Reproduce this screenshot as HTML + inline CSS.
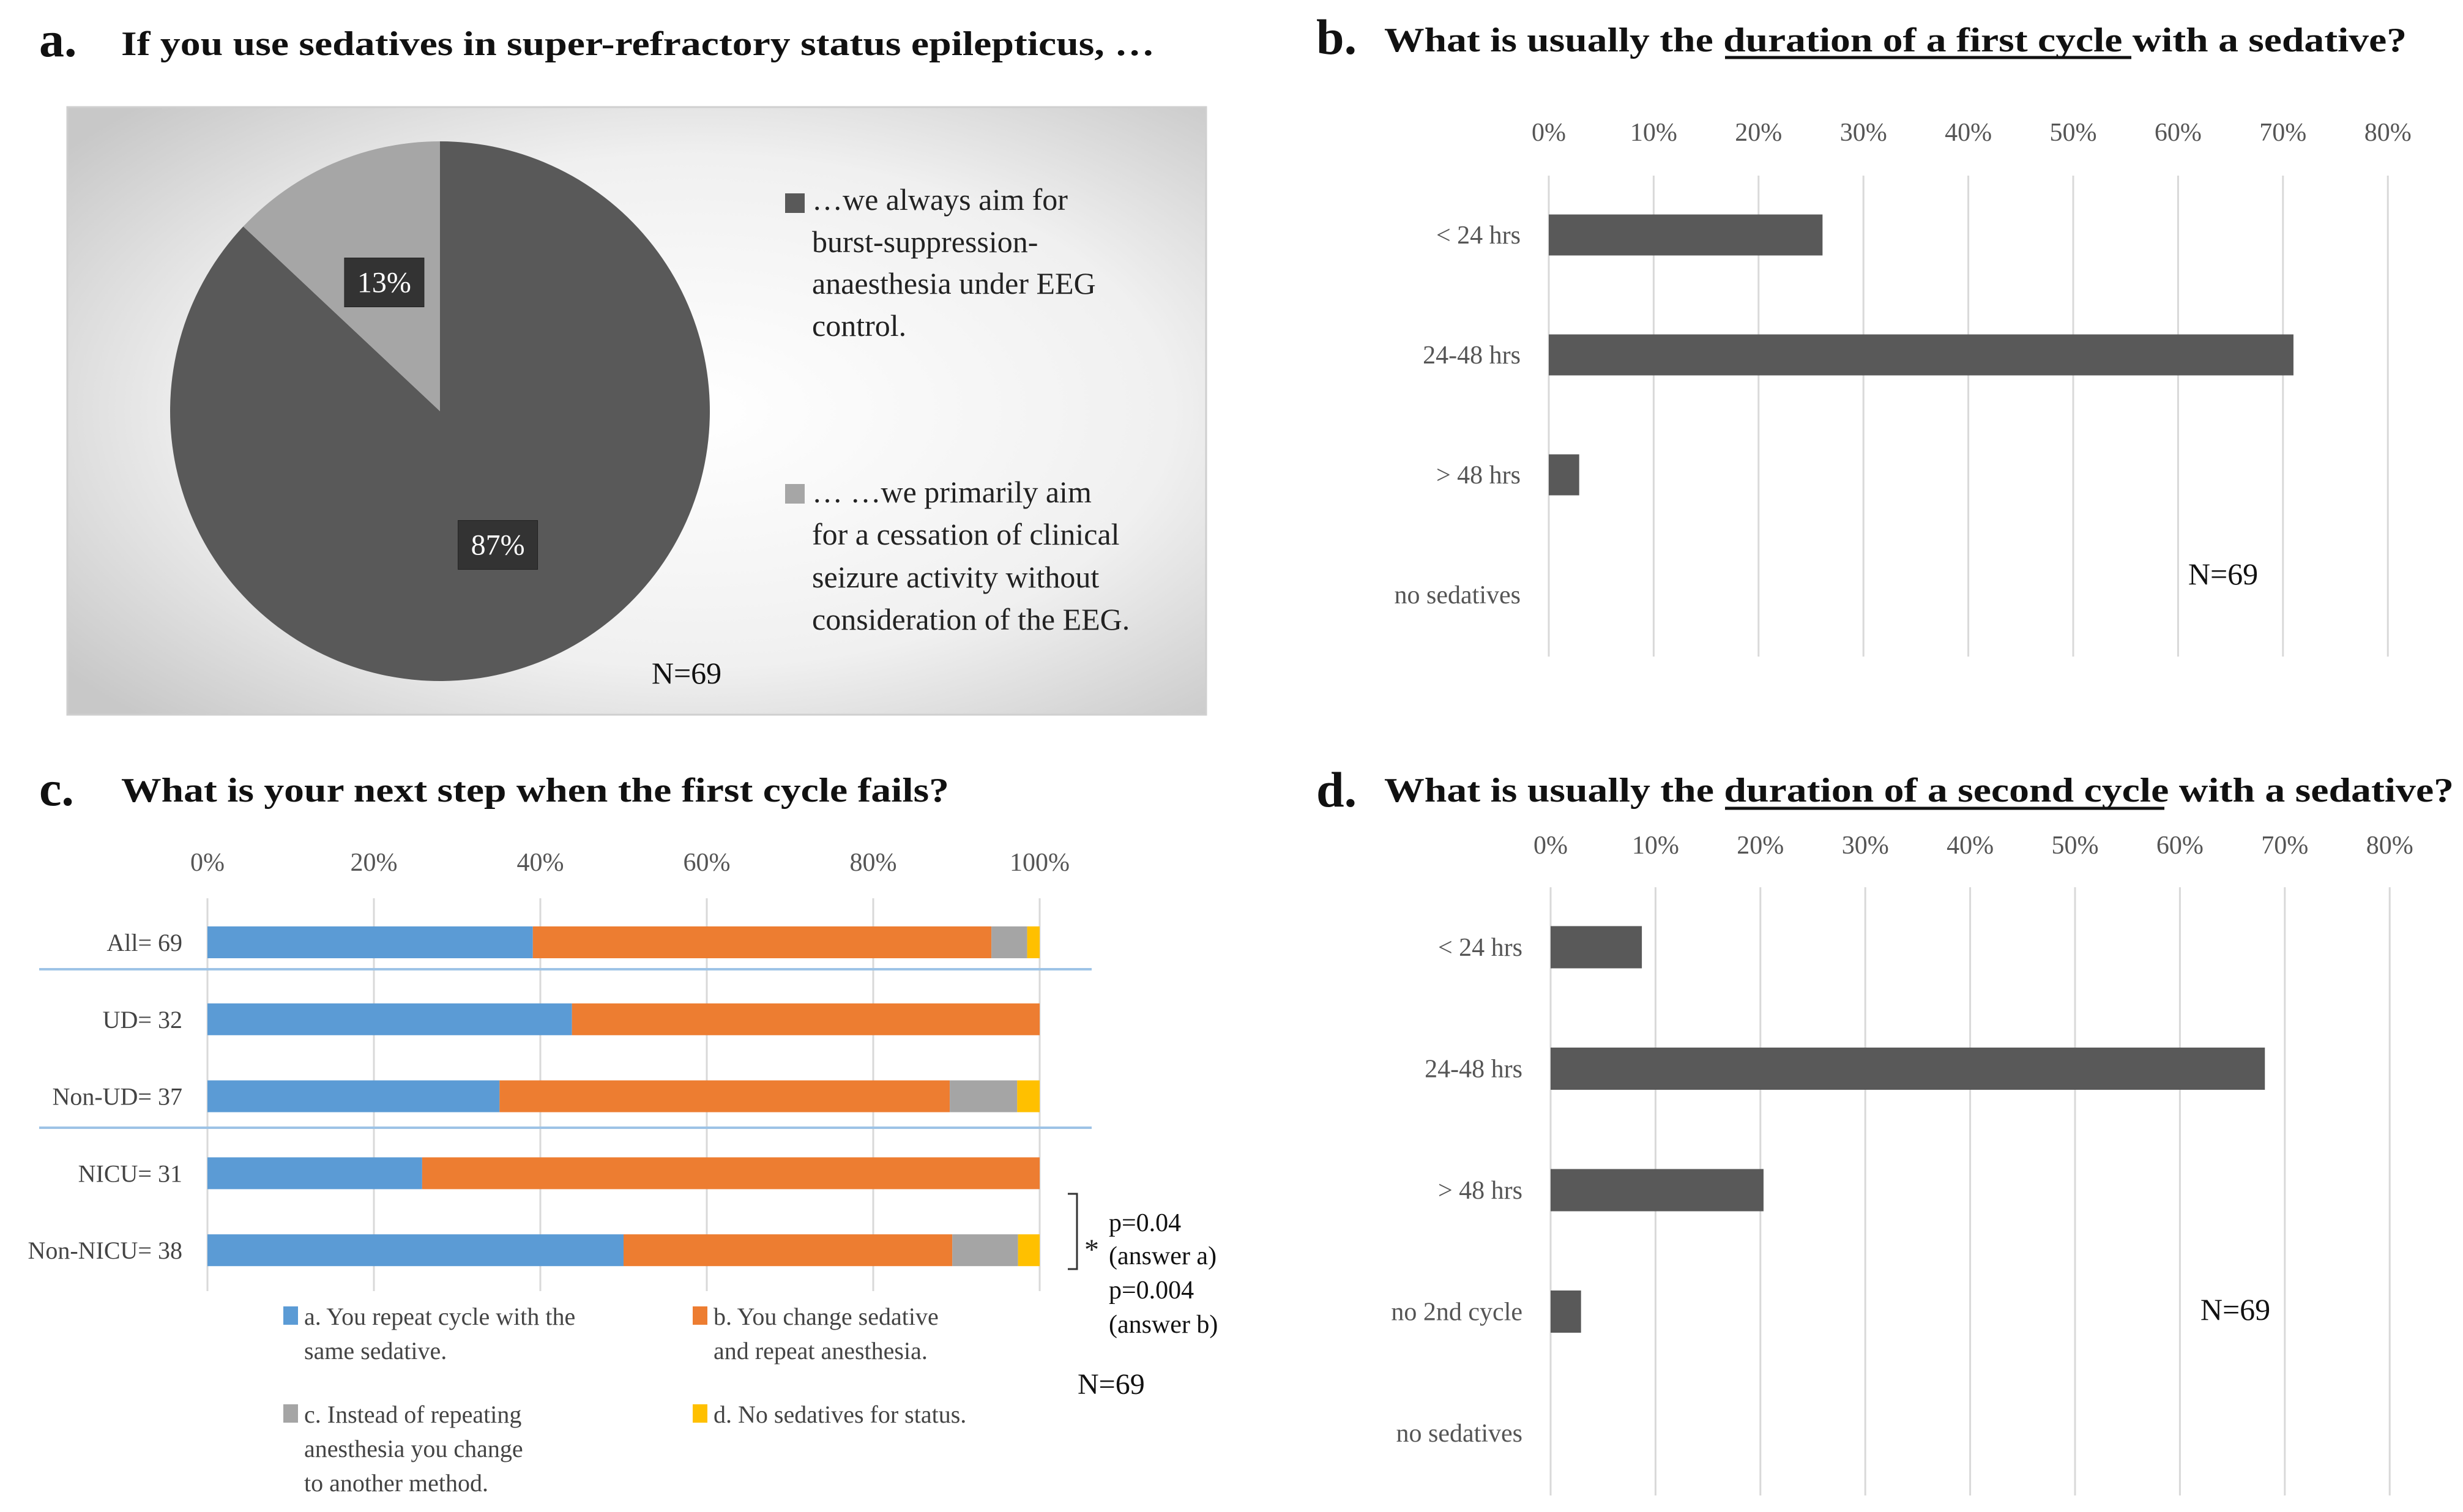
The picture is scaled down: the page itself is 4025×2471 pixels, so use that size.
<!DOCTYPE html>
<html><head><meta charset="utf-8"><style>
html,body{margin:0;padding:0;background:#fff;}
svg{display:block;font-family:"Liberation Serif",serif;}
</style></head><body>
<svg id="fig" width="4025" height="2471" viewBox="0 0 4025 2471">
<defs>
<radialGradient id="bg" cx="0.55" cy="0.5" r="0.7">
<stop offset="0" stop-color="#ffffff"/><stop offset="0.6" stop-color="#f0f0f0"/><stop offset="1" stop-color="#c8c8c8"/>
</radialGradient>
</defs>
<!-- Titles -->
<g font-weight="bold" fill="#111">
<text x="64" y="92" font-size="82">a.</text>
<text x="198" y="90" font-size="56" textLength="1689" lengthAdjust="spacingAndGlyphs">If you use sedatives in super-refractory status epilepticus, …</text>
</g>
<g font-weight="bold" fill="#111">
<text x="2151" y="88" font-size="82">b.</text>
<text x="2262" y="84" font-size="56" textLength="1671" lengthAdjust="spacingAndGlyphs">What is usually the duration of a first cycle with a sedative?</text>
<line x1="2819" y1="94" x2="3483" y2="94" stroke="#111" stroke-width="5"/>
</g>
<g font-weight="bold" fill="#111">
<text x="64" y="1316" font-size="82">c.</text>
<text x="198" y="1310" font-size="56" textLength="1353" lengthAdjust="spacingAndGlyphs">What is your next step when the first cycle fails?</text>
</g>
<g font-weight="bold" fill="#111">
<text x="2151" y="1318" font-size="82">d.</text>
<text x="2262" y="1310" font-size="56" textLength="1748" lengthAdjust="spacingAndGlyphs">What is usually the duration of a second cycle with a sedative?</text>
<line x1="2819" y1="1321" x2="3537" y2="1321" stroke="#111" stroke-width="5"/>
</g>
<!-- Panel a -->
<rect x="110" y="175" width="1861" height="993" fill="url(#bg)" stroke="#cfcfcf" stroke-width="3"/>
<g id="pie"></g>
<g font-size="50" fill="#222">
<rect x="1283" y="316" width="32" height="32" fill="#595959"/>
<text x="1327" y="343">…we always aim for<tspan x="1327" y="412">burst-suppression-</tspan><tspan x="1327" y="480">anaesthesia under EEG</tspan><tspan x="1327" y="549">control.</tspan></text>
<rect x="1283" y="791" width="32" height="32" fill="#a6a6a6"/>
<text x="1327" y="821">… …we primarily aim<tspan x="1327" y="890">for a cessation of clinical</tspan><tspan x="1327" y="960">seizure activity without</tspan><tspan x="1327" y="1029">consideration of the EEG.</tspan></text>
</g>
<text x="1122" y="1117" font-size="50" text-anchor="middle" fill="#111">N=69</text>
<g id="chartB"></g>
<text x="3633" y="955" font-size="50" text-anchor="middle" fill="#111">N=69</text>
<g id="chartD"></g>
<text x="3653" y="2157" font-size="50" text-anchor="middle" fill="#111">N=69</text>
<g id="chartC"></g>
<!-- Panel c legend & annotations -->
<g font-size="40" fill="#444">
<rect x="463" y="2135" width="24" height="30" fill="#5b9bd5"/>
<text x="497" y="2165">a. You repeat cycle with the<tspan x="497" y="2221">same sedative.</tspan></text>
<rect x="1132" y="2135" width="24" height="30" fill="#ed7d31"/>
<text x="1166" y="2165">b. You change sedative<tspan x="1166" y="2221">and repeat anesthesia.</tspan></text>
<rect x="463" y="2295" width="24" height="30" fill="#a5a5a5"/>
<text x="497" y="2325">c. Instead of repeating<tspan x="497" y="2381">anesthesia you change</tspan><tspan x="497" y="2437">to another method.</tspan></text>
<rect x="1132" y="2295" width="24" height="30" fill="#ffc000"/>
<text x="1166" y="2325">d. No sedatives for status.</text>
</g>
<path d="M1745 1951 H1760 V2074 H1745" fill="none" stroke="#333" stroke-width="3"/>
<text x="1772" y="2058" font-size="48" fill="#222">*</text>
<g font-size="42" fill="#111">
<text x="1812" y="2012">p=0.04</text><text x="1812" y="2066">(answer a)</text>
<text x="1812" y="2122">p=0.004</text><text x="1812" y="2178">(answer b)</text>
</g>
<text x="1761" y="2278" font-size="48" fill="#111">N=69</text>
</svg>
<script>
// ---- Panel a data ----
const pieLabels = ["burst-suppression", "clinical-cessation"];
const pieValues = [87, 13];
const pieTexts = ["87%", "13%"];
// ---- Panel b data ----
const bCategories = ["< 24 hrs", "24-48 hrs", "> 48 hrs", "no sedatives"];
const bValues = [26.1, 71.0, 2.9, 0];
// ---- Panel d data ----
const dCategories = ["< 24 hrs", "24-48 hrs", "> 48 hrs", "no 2nd cycle", "no sedatives"];
const dValues = [8.7, 68.1, 20.3, 2.9, 0];
const durTicks = ["0%", "10%", "20%", "30%", "40%", "50%", "60%", "70%", "80%"];
// ---- Panel c data ----
const cCategories = ["All= 69", "UD= 32", "Non-UD= 37", "NICU= 31", "Non-NICU= 38"];
const cSeriesA = [39.1, 43.8, 35.1, 25.8, 50.0];
const cSeriesB = [55.1, 56.2, 54.1, 74.2, 39.5];
const cSeriesC = [4.3, 0, 8.1, 0, 7.9];
const cSeriesD = [1.5, 0, 2.7, 0, 2.6];
const cTicks = ["0%", "20%", "40%", "60%", "80%", "100%"];

const NS = "http://www.w3.org/2000/svg";
function mk(tag, attrs, parent) {
  const e = document.createElementNS(NS, tag);
  for (const k in attrs) e.setAttribute(k, attrs[k]);
  parent.appendChild(e);
  return e;
}

// Pie
(function () {
  const g = document.getElementById("pie");
  const cx = 719, cy = 672, r = 441;
  const total = pieValues.reduce((a, b) => a + b, 0);
  const colors = ["#595959", "#a6a6a6"];
  let ang = 0; // start at 12 o'clock going clockwise
  pieValues.forEach((v, i) => {
    const a0 = ang, a1 = ang + v / total * 2 * Math.PI;
    ang = a1;
    const x0 = cx + r * Math.sin(a0), y0 = cy - r * Math.cos(a0);
    const x1 = cx + r * Math.sin(a1), y1 = cy - r * Math.cos(a1);
    const large = (a1 - a0) > Math.PI ? 1 : 0;
    const p = mk("path", { d: `M${cx} ${cy} L${x0} ${y0} A${r} ${r} 0 ${large} 1 ${x1} ${y1} Z`, fill: colors[i] }, g);
    
    
    const mid = (a0 + a1) / 2;
    const lr = i === 0 ? r * 0.54 : r * 0.52;
    const lx = cx + lr * Math.sin(mid), ly = cy - lr * Math.cos(mid);
    const box = mk("rect", { x: lx - 65, y: ly - 40, width: 130, height: 80, fill: "#333", stroke: "#222" }, g);
    
    
    const t = mk("text", { x: lx, y: ly + 16, "font-size": 48, fill: "#fff", "text-anchor": "middle" }, g);
    t.textContent = pieTexts[i];
    
    
  });
})();

function durChart(gid, cats, vals, x0, tickY, gTop, gBot, rowY0, rowStep, barH, prefix) {
  const g = document.getElementById(gid);
  const perPct = 17.14;
  const xs = v => x0 + v * perPct;
  durTicks.forEach((lab, i) => {
    const v = i * 10;
    const l = mk("line", { x1: xs(v), y1: gTop, x2: xs(v), y2: gBot, stroke: "#d9d9d9", "stroke-width": 3 }, g);
    
    
    const t = mk("text", { x: xs(v), y: tickY, "font-size": 42, fill: "#555", "text-anchor": "middle" }, g);
    t.textContent = lab;
    
    
  });
  cats.forEach((c, i) => {
    const cy = rowY0 + i * rowStep;
    const t = mk("text", { x: x0 - 46, y: cy + 14, "font-size": 42, fill: "#555", "text-anchor": "end" }, g);
    t.textContent = c;
    
    
    if (vals[i] > 0) {
      const b = mk("rect", { x: x0, y: cy - barH / 2, width: xs(vals[i]) - x0, height: barH, fill: "#595959" }, g);
      
      
    }
  });
}
durChart("chartB", bCategories, bValues, 2531, 230, 287, 1073, 384, 196, 67, "first-cycle");
durChart("chartD", dCategories, dValues, 2534, 1395, 1450, 2444, 1548, 198.5, 69, "second-cycle");

// Panel c
(function () {
  const g = document.getElementById("chartC");
  const x0 = 339, x100 = 1699;
  const xs = v => x0 + v / 100 * (x100 - x0);
  cTicks.forEach((lab, i) => {
    const v = i * 20;
    const l = mk("line", { x1: xs(v), y1: 1468, x2: xs(v), y2: 2110, stroke: "#d9d9d9", "stroke-width": 3 }, g);
    
    
    const t = mk("text", { x: xs(v), y: 1423, "font-size": 42, fill: "#555", "text-anchor": "middle" }, g);
    t.textContent = lab;
    
    
  });
  [1584, 1843].forEach(y => {
    const l = mk("line", { x1: 64, y1: y, x2: 1784, y2: y, stroke: "#9dc3e6", "stroke-width": 4 }, g);
    
    
  });
  const series = [cSeriesA, cSeriesB, cSeriesC, cSeriesD];
  const colors = ["#5b9bd5", "#ed7d31", "#a5a5a5", "#ffc000"];
  const names = ["a", "b", "c", "d"];
  cCategories.forEach((c, i) => {
    const cy = 1540 + i * 125.8;
    const t = mk("text", { x: 298, y: cy + 14, "font-size": 40, fill: "#444", "text-anchor": "end" }, g);
    t.textContent = c;
    
    
    let acc = 0;
    series.forEach((s, k) => {
      if (s[i] > 0) {
        const r = mk("rect", { x: xs(acc), y: cy - 26, width: xs(acc + s[i]) - xs(acc), height: 52, fill: colors[k] }, g);
        
        
      }
      acc += s[i];
    });
  });
})();
</script>
</body></html>
